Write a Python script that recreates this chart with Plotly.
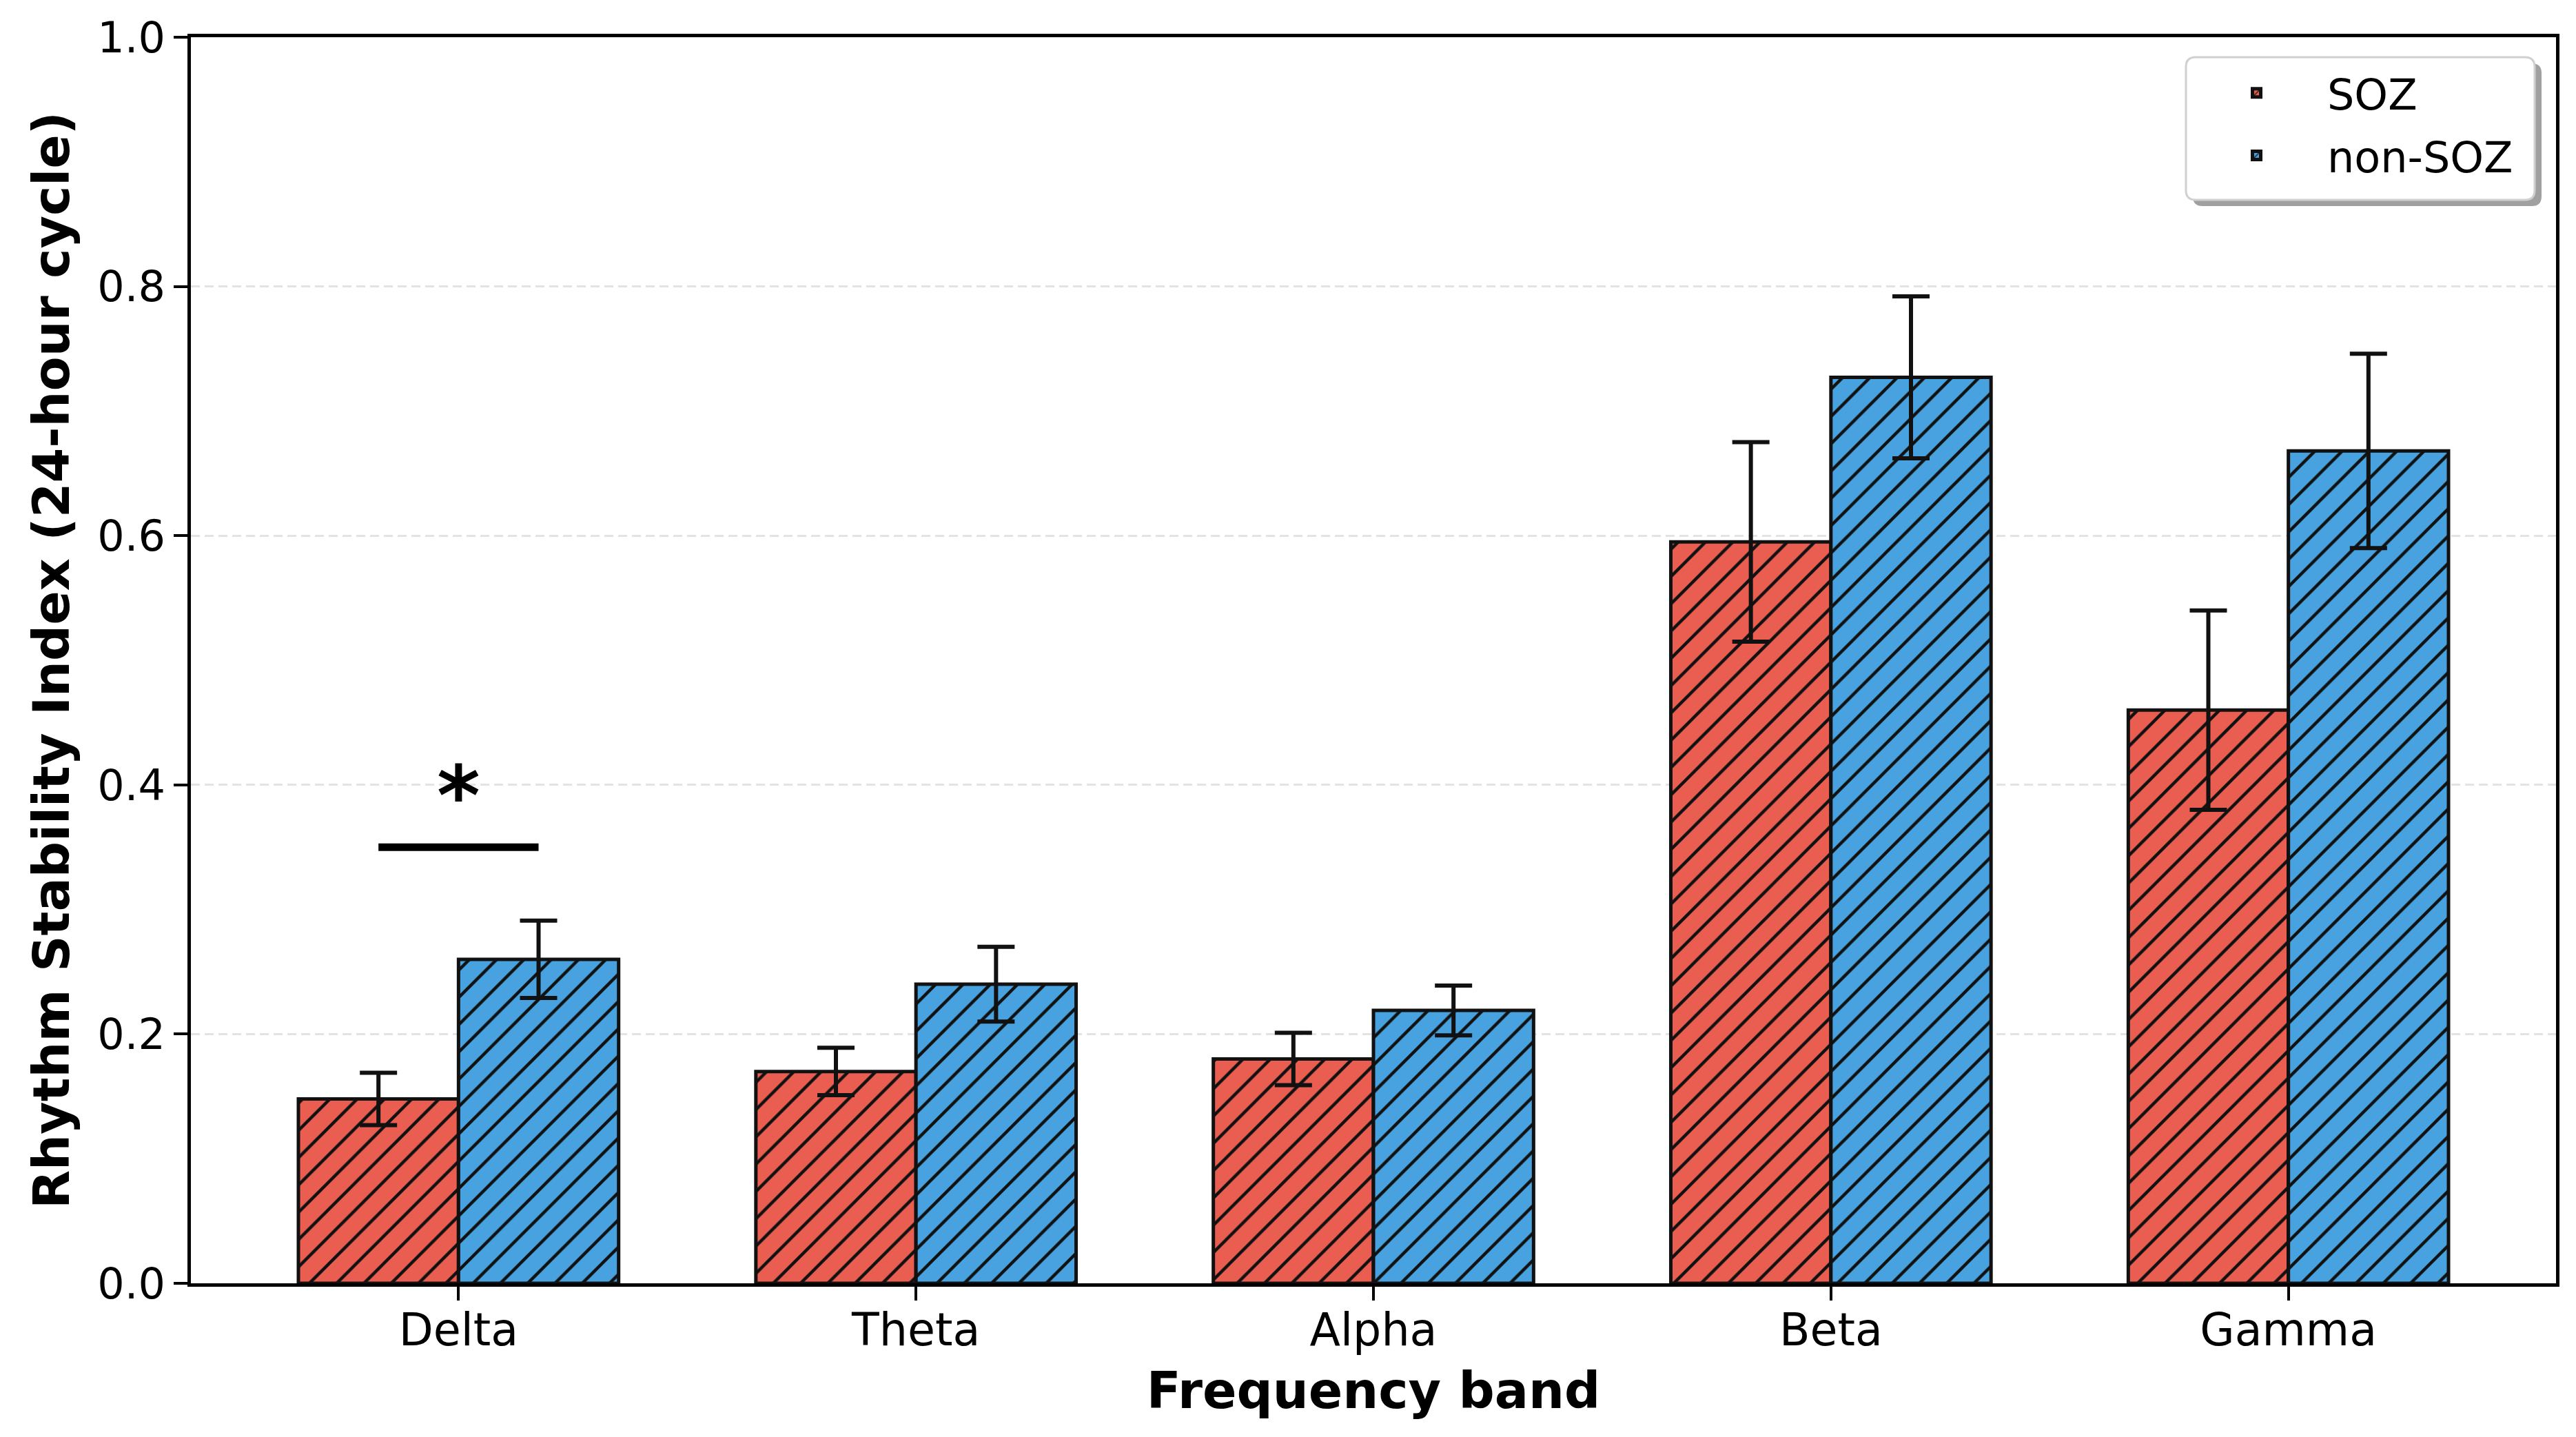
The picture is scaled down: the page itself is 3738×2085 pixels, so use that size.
import plotly.graph_objects as go

bands = ["Delta", "Theta", "Alpha", "Beta", "Gamma"]
soz_mean = [0.148, 0.170, 0.180, 0.595, 0.460]
soz_err = [0.021, 0.019, 0.021, 0.080, 0.080]
non_mean = [0.260, 0.240, 0.219, 0.727, 0.668]
non_err = [0.031, 0.030, 0.020, 0.065, 0.078]
y_ticks = [0.0, 0.2, 0.4, 0.6, 0.8, 1.0]
sig_band = "Delta"
sig_y = 0.35
sig_label = "*"

BAR_W = 0.35
FONT = "DejaVu Sans"
RED = "#E95E50"
BLUE = "#48A2DF"

W, H = 3722, 2069
ML, MR, MT, MB = 269, 21, 46, 215
PW, PH = W - ML - MR, H - MT - MB

def px_x(px):
    return (px - ML) / PW

def px_y(py):
    return 1 - (py - MT) / PH

xs = list(range(len(bands)))
x_soz = [x - BAR_W / 2 for x in xs]
x_non = [x + BAR_W / 2 for x in xs]

fig = go.Figure()

def add_bar(x, y, err, color, name):
    fig.add_trace(go.Bar(
        x=x, y=y, width=BAR_W, name=name, legendgroup=name,
        marker=dict(
            color=color,
            line=dict(color="#111111", width=5),
            pattern=dict(shape="/", size=28, solidity=0.16,
                         fgcolor="#111111", bgcolor=color, fillmode="replace"),
        ),
        error_y=dict(type="data", array=err, visible=True,
                     color="#111111", thickness=6, width=27),
    ))

add_bar(x_soz, soz_mean, soz_err, RED, "SOZ")
add_bar(x_non, non_mean, non_err, BLUE, "non-SOZ")

# significance bracket
si = bands.index(sig_band)
fig.add_shape(type="line", xref="x", yref="y",
              x0=x_soz[si], x1=x_non[si], y0=sig_y, y1=sig_y,
              line=dict(color="black", width=11))
fig.add_annotation(x=xs[si], y=sig_y + 0.05, xref="x", yref="y",
                   text="<b>" + sig_label + "</b>", showarrow=False,
                   yanchor="middle", yshift=-16,
                   font=dict(family=FONT, size=120, color="black"))

# legend frame (rounded box with drop shadow)
def rounded(x0p, y0p, x1p, y1p, r=14):
    X0, X1 = px_x(x0p), px_x(x1p)
    Y0, Y1 = px_y(y0p), px_y(y1p)  # Y0 top, Y1 bottom
    rx, ry = r / PW, r / PH
    return (f"M{X0+rx},{Y0} L{X1-rx},{Y0} Q{X1},{Y0} {X1},{Y0-ry} "
            f"L{X1},{Y1+ry} Q{X1},{Y1} {X1-rx},{Y1} L{X0+rx},{Y1} "
            f"Q{X0},{Y1} {X0},{Y1+ry} L{X0},{Y0-ry} Q{X0},{Y0} {X0+rx},{Y0} Z")

LEG = (3164, 75, 3670, 282)
fig.add_shape(type="path", xref="paper", yref="paper", layer="above",
              path=rounded(LEG[0] + 10, LEG[1] + 9, LEG[2] + 10, LEG[3] + 9),
              fillcolor="#a0a0a0", line=dict(width=0))
fig.add_shape(type="path", xref="paper", yref="paper", layer="above",
              path=rounded(*LEG),
              fillcolor="white", line=dict(color="#d0d0d0", width=3))

fig.update_layout(
    width=W, height=H,
    margin=dict(l=ML, r=MR, t=MT, b=MB, autoexpand=False),
    paper_bgcolor="white", plot_bgcolor="white",
    barmode="overlay",
    font=dict(family=FONT, color="black", size=64),
    showlegend=True,
    legend=dict(
        x=px_x(LEG[0]), y=px_y(LEG[1] + 5), xanchor="left", yanchor="top",
        bgcolor="rgba(0,0,0,0)", borderwidth=0,
        font=dict(family=FONT, size=62, color="black"),
        itemwidth=195, tracegroupgap=7,
    ),
    xaxis=dict(
        range=[-0.585, 4.585], tickmode="array", tickvals=xs, ticktext=bands,
        showline=True, linecolor="black", linewidth=4.5, mirror=True,
        ticks="outside", ticklen=20, tickwidth=4, tickcolor="black",
        showgrid=False, zeroline=False, ticklabelstandoff=-13,
        tickfont=dict(family=FONT, size=65, color="black"),
        title=dict(text="<b>Frequency band</b>", standoff=28,
                   font=dict(family=FONT, size=73, color="black")),
    ),
    yaxis=dict(
        range=[0, 1.0], tickmode="array", tickvals=y_ticks,
        ticktext=[f"{v:.1f}" for v in y_ticks],
        showline=True, linecolor="black", linewidth=4.5, mirror=True,
        ticks="outside", ticklen=20, tickwidth=4, tickcolor="black",
        showgrid=True, gridcolor="#e3e3e3", gridwidth=3, griddash="13px,7px",
        zeroline=False,
        tickfont=dict(family=FONT, size=62, color="black"),
        title=dict(text="<b>Rhythm Stability Index (24-hour cycle)</b>", standoff=18,
                   font=dict(family=FONT, size=73, color="black")),
    ),
)

fig.write_html("out.html")
